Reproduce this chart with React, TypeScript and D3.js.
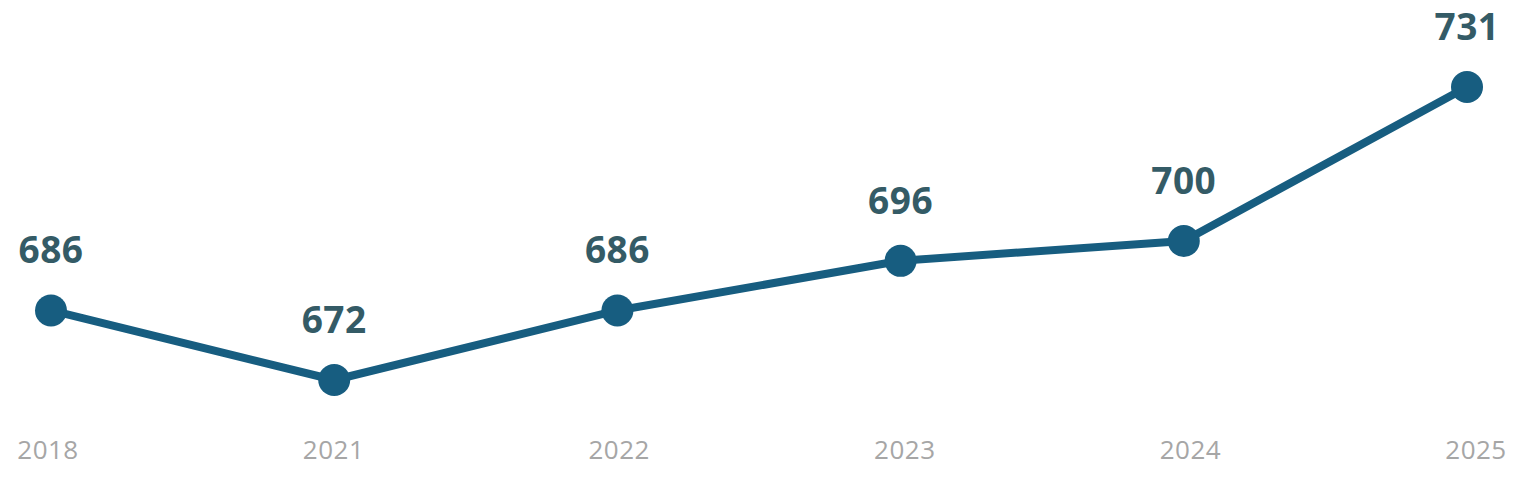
import * as d3 from 'd3';

const years = ['2018', '2021', '2022', '2023', '2024', '2025'];
const values = [686, 672, 686, 696, 700, 731];

const W = 1524;
const H = 484;

const App = () => {
    // positions of the first/last point and the value range
    const x = d3.scalePoint<string>().domain(years).range([51, 1467]);
    const y = d3.scaleLinear().domain([672, 731]).range([380, 87]);
    // category labels sit on a slightly wider band than the points
    const xLabel = d3.scalePoint<string>().domain(years).range([48, 1476]);

    const line = d3.line<number>()
        .x((_, i) => x(years[i]) as number)
        .y(d => y(d));

    return (
        <svg
            width={W}
            height={H}
            style={{ position: 'absolute', left: 0, top: 0, background: '#fff' }}
        >
            <path d={line(values) || ''} fill="none" stroke="#175D80" strokeWidth={8} strokeLinejoin="round" />
            {values.map((v, i) => (
                <g key={years[i]}>
                    <circle cx={x(years[i])} cy={y(v)} r={16} fill="#175D80" />
                    <text
                        x={x(years[i])}
                        y={y(v) - 47}
                        textAnchor="middle"
                        fill="#345B66"
                        fontFamily="'Open Sans', sans-serif"
                        fontWeight={700}
                        fontSize={37}
                        letterSpacing={0.5}
                    >
                        {v}
                    </text>
                </g>
            ))}
            {/* category axis labels */}
            {years.map(yr => (
                <text
                    key={yr}
                    x={xLabel(yr)}
                    y={459}
                    textAnchor="middle"
                    fill="#A6A6A6"
                    fontFamily="'Open Sans', sans-serif"
                    fontSize={26}
                    letterSpacing={0.5}
                >
                    {yr}
                </text>
            ))}
        </svg>
    );
};

export default App;
